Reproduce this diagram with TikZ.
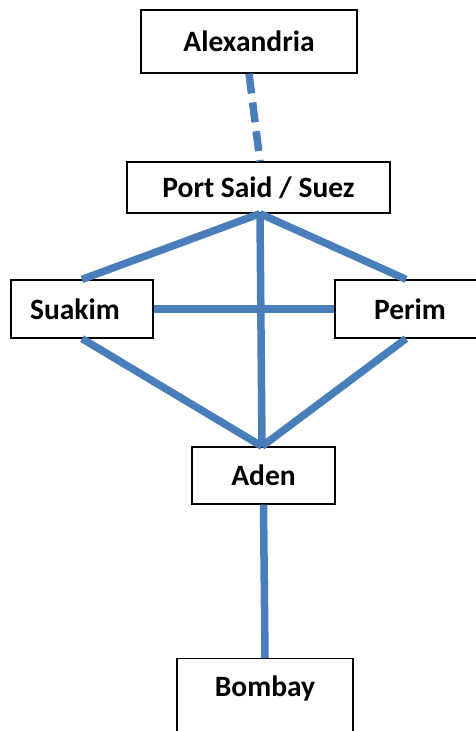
\documentclass[tikz,border=0pt]{standalone}
\usepackage{fontspec}
\setmainfont{Carlito}
\definecolor{route}{HTML}{4A7EBB}
\begin{document}
\begin{tikzpicture}[x=1pt,y=-1pt,
  label text/.style={font=\fontsize{29.5}{34}\selectfont\bfseries},
  place/.style={draw=black, line width=1.3pt, fill=white, inner sep=0pt, label text},
  link/.style={draw=route, line width=7.5pt},
  uncertain/.style={link, dash pattern=on 20pt off 9pt}]
\useasboundingbox (0,0) rectangle (475,731);

\node[place, minimum width=216pt, minimum height=63pt] (alex)  at (249,41.5) {Alexandria};
\node[place, minimum width=263pt, minimum height=51pt] (psaid) at (258.5,187.5) {Port Said / Suez};
\node[place, minimum width=142pt, minimum height=58pt] (suakim) at (82,309) {};
\node[label text] (suakimtxt) at (75,309) {Suakim};
\node[place, minimum width=142pt, minimum height=58pt] (perim) at (406,309) {};
\node[label text] (perimtxt) at (410,309) {Perim};
\node[place, minimum width=143pt, minimum height=57pt] (aden)  at (263.5,475.5) {Aden};
\node[place, minimum width=176pt, minimum height=90pt, anchor=north] (bombay) at (265,658) {};
\node[label text] (bombaytxt) at (265,688) {Bombay};

% routes
\draw[uncertain] (alex.south) -- (psaid.north -| 260,0);
\coordinate (hub) at (psaid.south -| 260,0);
\coordinate (meet) at (aden.north -| 262,0);
\draw[link] (hub) -- (suakim.north);
\draw[link] (hub) -- (perim.north);
\draw[link] (hub) -- (meet);
\draw[link] (suakim.east) -- (perim.west);
\draw[link] (suakim.south) -- (meet);
\draw[link] (perim.south) -- (meet);
\draw[link] (aden.south) -- (bombay.north);
\end{tikzpicture}
\end{document}
